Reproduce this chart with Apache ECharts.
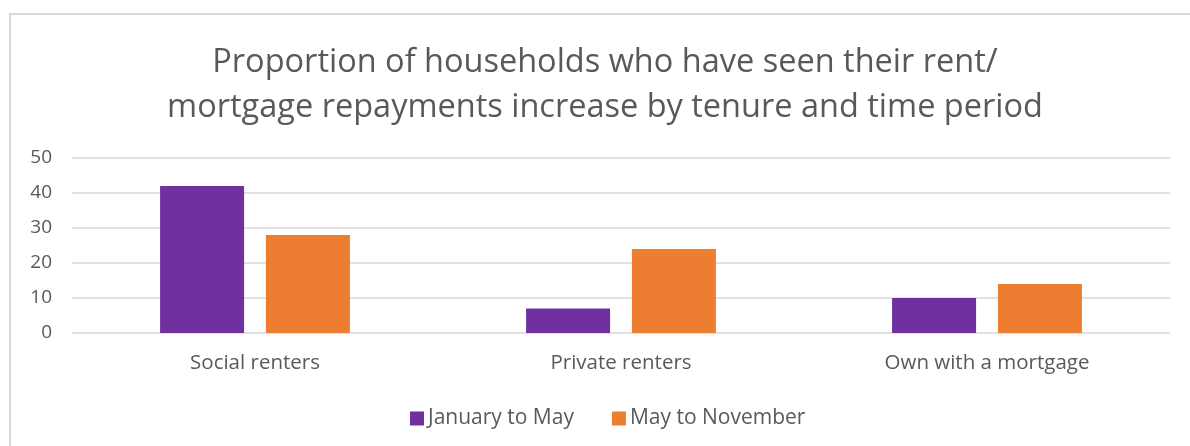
<!DOCTYPE html>
<html>
<head>
<meta charset="utf-8">
<script src="https://cdn.jsdelivr.net/npm/echarts@6/dist/echarts.min.js"></script>
<style>
	html, body { margin: 0; padding: 0; background: #fff; }
	#frame {
		position: absolute; left: 9px; top: 13px; width: 1200px; height: 460px;
		border-left: 2px solid #d9d9d9; border-top: 2px solid #d9d9d9;
	}
	#myChart { position: absolute; left: 0; top: 0; width: 1190px; height: 446px; }
</style>
</head>
<body>
<div id="frame"></div>
<div id="myChart"></div>
<script>
	// 数据
	var categories = ['Social renters', 'Private renters', 'Own with a mortgage'];
	var janToMay = [42, 7, 10];
	var mayToNov = [28, 24, 14];
	var yTicks = [0, 10, 20, 30, 40, 50];

	var fontFamily = '"Open Sans", "Noto Sans", sans-serif';
	var textColor = '#595959';

	let myChart = echarts.init(document.getElementById('myChart'));
	var option = {
		animation: false,
		title: {
			text: 'Proportion of households who have seen their rent/\nmortgage repayments increase by tenure and time period',
			left: 600,
			top: 35,
			textAlign: 'center',
			textStyle: {
				color: textColor,
				fontFamily: fontFamily,
				fontWeight: 'normal',
				fontSize: 32.5,
				lineHeight: 45
			}
		},
		legend: {
			bottom: 12,
			left: 405,
			itemWidth: 14,
			itemHeight: 14,
			itemGap: 38,
			icon: 'rect',
			selectedMode: false,
			textStyle: {
				color: textColor,
				fontFamily: fontFamily,
				fontSize: 21,
				padding: [0, 0, 0, -1]
			}
		},
		grid: {
			left: 72,
			right: 20,
			top: 158,
			bottom: 113,
			containLabel: false
		},
		xAxis: {
			type: 'category',
			data: categories,
			axisLine: { show: false },
			axisTick: { show: false },
			axisLabel: {
				color: textColor,
				fontFamily: fontFamily,
				fontSize: 20.5,
				margin: 20
			}
		},
		yAxis: {
			type: 'value',
			min: yTicks[0],
			max: yTicks[yTicks.length - 1],
			interval: 10,
			axisLine: { show: false },
			axisTick: { show: false },
			splitLine: {
				lineStyle: { color: '#d9d9d9', width: 1.5 }
			},
			axisLabel: {
				color: textColor,
				fontFamily: fontFamily,
				fontSize: 19,
				margin: 20
			}
		},
		series: [{
			name: 'January to May',
			type: 'bar',
			data: janToMay,
			barWidth: 84,
			barGap: '26%',
			itemStyle: { color: '#7030A0' }
		}, {
			name: 'May to November',
			type: 'bar',
			data: mayToNov,
			barWidth: 84,
			itemStyle: { color: '#ED7D31' }
		}]
	};
	myChart.setOption(option);
</script>
</body>
</html>
